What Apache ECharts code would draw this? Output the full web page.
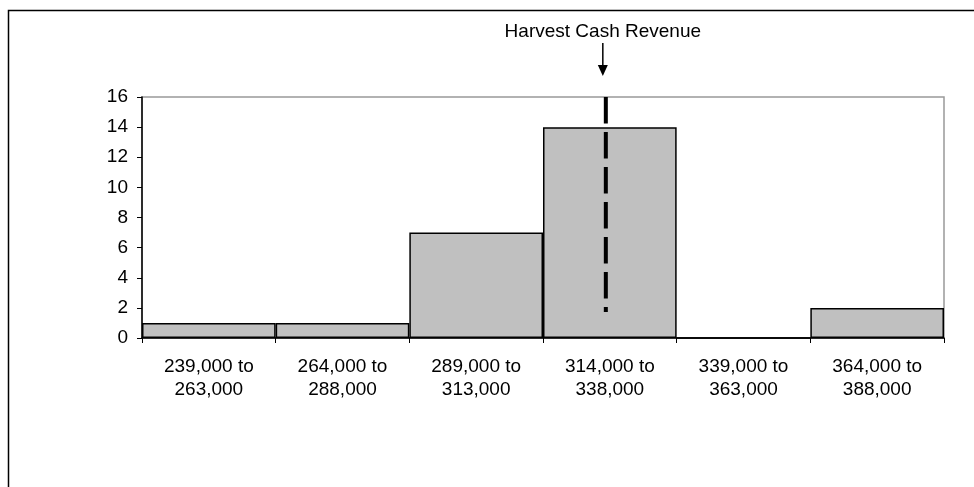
<!DOCTYPE html>
<html>
<head>
<meta charset="utf-8">
<script src="https://cdn.jsdelivr.net/npm/echarts@6/dist/echarts.min.js"></script>
<style>
html,body{margin:0;padding:0;background:#fff;}
#chart{width:974px;height:487px;}
</style>
</head>
<body>
<div id="chart"></div>
<script>
const categories = ['239,000 to\n263,000', '264,000 to\n288,000', '289,000 to\n313,000', '314,000 to\n338,000', '339,000 to\n363,000', '364,000 to\n388,000'];
const counts = [1, 1, 7, 14, 0, 2];
const yTicks = [0, 2, 4, 6, 8, 10, 12, 14, 16];
const binStart = 239000;
const binWidth = 25000;
const harvestRevenue = 325750;
const harvestLineRange = [16, 1.73];
const annotationText = 'Harvest Cash Revenue';

const harvestPos = (harvestRevenue - binStart) / binWidth;
const FONT = 'Liberation Sans, Arial, sans-serif';

const chart = echarts.init(document.getElementById('chart'));
chart.setOption({
  animation: false,
  backgroundColor: '#fff',
  grid: {
    left: 142, right: 30, top: 97, bottom: 149,
    show: true, borderColor: '#999999', borderWidth: 1.5, backgroundColor: 'transparent'
  },
  xAxis: [{
    type: 'category',
    data: categories,
    axisLine: { lineStyle: { color: '#000', width: 1.5 } },
    axisTick: { show: true, length: 5, alignWithLabel: false, lineStyle: { color: '#000', width: 1 } },
    axisLabel: { color: '#000', fontSize: 19, fontFamily: FONT, margin: 17, lineHeight: 23, interval: 0 },
    splitLine: { show: false }
  }, {
    type: 'value',
    min: 0, max: categories.length,
    show: false
  }],
  yAxis: {
    type: 'value',
    min: yTicks[0], max: yTicks[yTicks.length - 1], interval: 2,
    axisLine: { show: true, lineStyle: { color: '#000', width: 1.5 } },
    axisTick: { show: true, length: 5, lineStyle: { color: '#000', width: 1 } },
    axisLabel: { color: '#000', fontSize: 19, fontFamily: FONT, margin: 14 },
    splitLine: { show: false }
  },
  series: [{
    type: 'bar',
    data: counts,
    barCategoryGap: '0%',
    itemStyle: { color: '#C0C0C0', borderColor: '#000', borderWidth: 1.5 },
    z: 2
  }, {
    type: 'line',
    xAxisIndex: 1,
    data: [[harvestPos, harvestLineRange[0]], [harvestPos, harvestLineRange[1]]],
    symbol: 'none',
    lineStyle: { color: '#000', width: 4, type: [26.5, 8.5], cap: 'butt' },
    z: 5
  }]
});

const linePx = chart.convertToPixel({ xAxisIndex: 1, yAxisIndex: 0 }, [harvestPos, harvestLineRange[0]]);
const ax = linePx[0] - 3;
chart.setOption({
  graphic: [
    { type: 'rect', shape: { x: 8.5, y: 10.5, width: 1200, height: 1000 }, style: { fill: 'none', stroke: '#000', lineWidth: 1.5 }, silent: true },
    { type: 'text', x: ax, y: 32, style: { text: annotationText, fill: '#000', font: '19px ' + FONT, textAlign: 'center', textVerticalAlign: 'middle' } },
    { type: 'line', shape: { x1: ax, y1: 43, x2: ax, y2: 67 }, style: { stroke: '#000', lineWidth: 1.5 } },
    { type: 'polygon', shape: { points: [[ax - 5, 65], [ax + 5, 65], [ax, 76]] }, style: { fill: '#000' } }
  ]
});
</script>
</body>
</html>
